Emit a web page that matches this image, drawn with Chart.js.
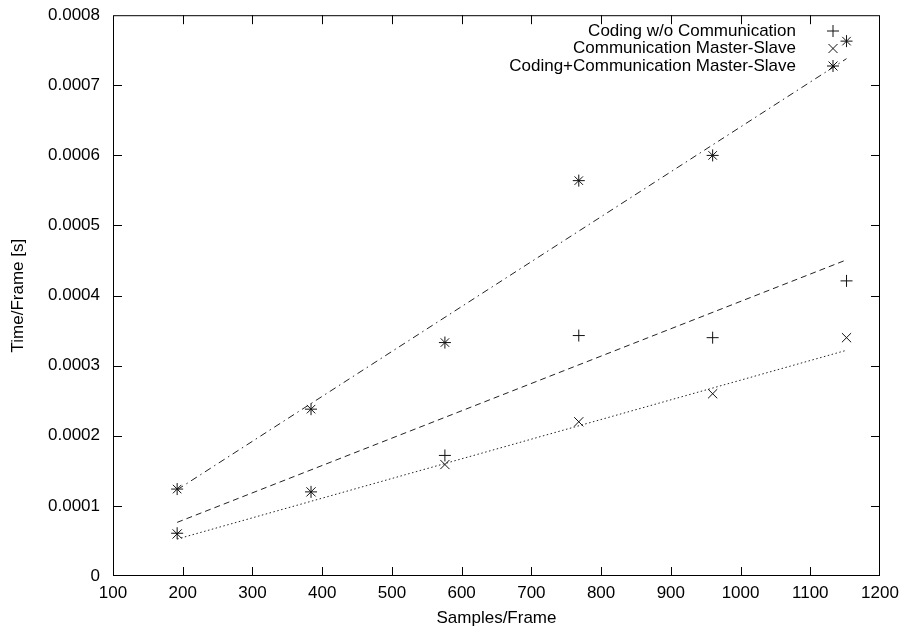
<!DOCTYPE html>
<html>
<head>
<meta charset="utf-8">
<script src="https://cdn.jsdelivr.net/npm/chart.js@4"></script>
<style>
  html, body { margin: 0; padding: 0; background: #fff; }
  #wrap { width: 902px; height: 631px; }
</style>
</head>
<body>
<div id="wrap"><canvas id="chart"></canvas></div>
<script>
// values
const samples = [192, 384, 576, 768, 960, 1152];
const codingOnly = [0.000061, 0.00012, 0.000172, 0.000343, 0.00034, 0.000421];
const commMasterSlave = [0.00006, 0.00012, 0.000159, 0.00022, 0.00026, 0.00034];
const codingComm = [0.000124, 0.000238, 0.000333, 0.000564, 0.0006, 0.000763];

const fitX = [192, 1152];
const fitCodingOnly = [0.0000765, 0.000451];
const fitCommMasterSlave = [0.0000527, 0.000322];
const fitCodingComm = [0.000123, 0.000738];

const seriesLabels = ['Coding w/o Communication', 'Communication Master-Slave', 'Coding+Communication Master-Slave'];
const xTicks = [100, 200, 300, 400, 500, 600, 700, 800, 900, 1000, 1100, 1200];
const yTicks = [0, 0.0001, 0.0002, 0.0003, 0.0004, 0.0005, 0.0006, 0.0007, 0.0008];

const FONT = 'Liberation Sans, Arial, Helvetica, sans-serif';
const INK = '#000';

const pts = (xs, ys) => xs.map((x, i) => ({ x: x, y: ys[i] }));

function drawMarker(ctx, style, x, y) {
    ctx.beginPath();
    if (style === 'cross' || style === 'star') {
        ctx.moveTo(x - 6, y); ctx.lineTo(x + 6, y);
        ctx.moveTo(x, y - 6); ctx.lineTo(x, y + 6);
    }
    if (style === 'crossRot' || style === 'star') {
        ctx.moveTo(x - 4.5, y - 4.5); ctx.lineTo(x + 4.5, y + 4.5);
        ctx.moveTo(x - 4.5, y + 4.5); ctx.lineTo(x + 4.5, y - 4.5);
    }
    ctx.stroke();
}

// gnuplot style frame, inward ticks on all sides, and the key
const framePlugin = {
    id: 'frame',
    afterDraw(chart) {
        const { ctx, chartArea: a, scales } = chart;
        ctx.save();
        ctx.strokeStyle = INK;
        ctx.lineWidth = 1;
        ctx.strokeRect(a.left + 0.5, a.top + 0.5, a.right - a.left - 1, a.bottom - a.top - 1);
        ctx.beginPath();
        const tl = 9;
        xTicks.forEach(v => {
            const px = Math.round(scales.x.getPixelForValue(v)) + 0.5;
            if (px <= a.left + 1 || px >= a.right - 1) return;
            ctx.moveTo(px, a.bottom); ctx.lineTo(px, a.bottom - tl);
            ctx.moveTo(px, a.top); ctx.lineTo(px, a.top + tl);
        });
        yTicks.forEach(v => {
            const py = Math.round(scales.y.getPixelForValue(v)) + 0.5;
            if (py <= a.top + 1 || py >= a.bottom - 1) return;
            ctx.moveTo(a.left, py); ctx.lineTo(a.left + tl, py);
            ctx.moveTo(a.right, py); ctx.lineTo(a.right - tl, py);
        });
        ctx.stroke();

        // key
        const styles = ['cross', 'crossRot', 'star'];
        ctx.font = '17px ' + FONT;
        ctx.fillStyle = INK;
        ctx.textAlign = 'right';
        ctx.textBaseline = 'middle';
        seriesLabels.forEach((t, i) => {
            const y = 31 + i * 17.5;
            ctx.fillText(t, 796, y);
            ctx.strokeStyle = '#111';
            drawMarker(ctx, styles[i], 833, y);
        });
        ctx.restore();
    }
};

const ctx = document.getElementById('chart');

new Chart(ctx, {
    type: 'scatter',
    data: {
        datasets: [
            {
                label: seriesLabels[0],
                data: pts(samples, codingOnly),
                pointStyle: 'cross',
                pointRadius: 6,
                borderColor: '#111',
                borderWidth: 1
            },
            {
                label: seriesLabels[1],
                data: pts(samples, commMasterSlave),
                pointStyle: 'crossRot',
                pointRadius: 6.5,
                borderColor: '#111',
                borderWidth: 1
            },
            {
                label: seriesLabels[2],
                data: pts(samples, codingComm),
                pointStyle: 'star',
                pointRadius: 6,
                borderColor: '#111',
                borderWidth: 1
            },
            {
                label: 'fit1',
                data: pts(fitX, fitCodingOnly),
                showLine: true,
                pointRadius: 0,
                borderColor: '#222',
                borderWidth: 1,
                borderDash: [6, 4]
            },
            {
                label: 'fit2',
                data: pts(fitX, fitCommMasterSlave),
                showLine: true,
                pointRadius: 0,
                borderColor: '#222',
                borderWidth: 1,
                borderDash: [1.5, 2.5]
            },
            {
                label: 'fit3',
                data: pts(fitX, fitCodingComm),
                showLine: true,
                pointRadius: 0,
                borderColor: '#222',
                borderWidth: 1,
                borderDash: [7, 4, 1.5, 4]
            }
        ]
    },
    options: {
        responsive: true,
        maintainAspectRatio: false,
        animation: false,
        layout: { padding: { top: 14, right: 22, left: 0, bottom: 0 } },
        plugins: {
            legend: { display: false },
            tooltip: { enabled: false }
        },
        scales: {
            x: {
                type: 'linear',
                min: 100,
                max: 1200,
                afterBuildTicks: s => { s.ticks = xTicks.map(v => ({ value: v })); },
                afterFit: s => { s.height = 55; },
                grid: { display: false },
                border: { display: false },
                ticks: {
                    color: INK,
                    padding: -1,
                    font: { size: 17, family: FONT },
                    callback: v => String(v)
                },
                title: {
                    display: true,
                    text: 'Samples/Frame',
                    color: INK,
                    padding: { top: 0, bottom: 2 },
                    font: { size: 17, family: FONT }
                }
            },
            y: {
                type: 'linear',
                min: 0,
                max: 0.0008,
                afterBuildTicks: s => { s.ticks = yTicks.map(v => ({ value: v })); },
                afterFit: s => { s.width = 113; },
                grid: { display: false },
                border: { display: false },
                ticks: {
                    color: INK,
                    padding: 5,
                    font: { size: 17, family: FONT },
                    callback: v => v === 0 ? '0' : (Math.round(v * 1e4) / 1e4).toFixed(4)
                },
                title: {
                    display: true,
                    text: 'Time/Frame [s]',
                    color: INK,
                    padding: { top: 8, bottom: 0 },
                    font: { size: 17, family: FONT }
                }
            }
        }
    },
    plugins: [framePlugin]
});
</script>
</body>
</html>
